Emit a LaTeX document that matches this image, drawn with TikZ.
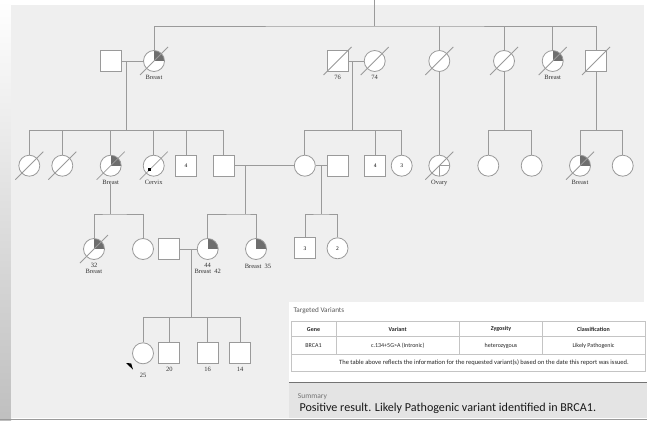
\documentclass[tikz,border=0pt]{standalone}
\usepackage{fontspec}
\usepackage{tikz}
\setmainfont{Liberation Serif}
\newfontfamily\reportfont{Carlito}
\usetikzlibrary{positioning}
\definecolor{bggray}{HTML}{EFEFEF}
\definecolor{linegray}{HTML}{9A9A9A}
\definecolor{affgray}{HTML}{6E6E6E}
\definecolor{cellgray}{HTML}{C4C4C4}
\definecolor{sumgray}{HTML}{E4E4E4}

\begin{document}
\begin{tikzpicture}[
    x=1pt, y=-1pt,
    link/.style={draw=linegray, line width=0.8pt},
    male/.style={draw=linegray, line width=0.8pt, fill=white, minimum size=21pt,
        inner sep=0pt, font=\fontsize{5.5}{6}\selectfont},
    female/.style={male, circle},
    lbl/.style={inner sep=0pt, font=\fontsize{6.5}{6.5}\selectfont, text=black!80},
    every label/.style={lbl},
    label distance=3pt,
    % quarter shading for an affected person
    affected/.style={
        path picture={
            \fill[affgray] (path picture bounding box.center)
                rectangle (path picture bounding box.north east);
        }
    },
    % lower right quarter outlined only
    ovary/.style={
        path picture={
            \draw[linegray, line width=0.8pt] (path picture bounding box.east)
                -| (path picture bounding box.south);
        }
    },
    slash/.style={draw=linegray, line width=0.8pt},
    cell/.style={inner sep=0pt, font=\reportfont\fontsize{6}{7}\selectfont, text=black!85},
    head/.style={cell, font=\reportfont\bfseries\fontsize{6}{7}\selectfont}
]

    % Background
    \useasboundingbox (0,0) rectangle (647,420);
    \shade[top color=white, bottom color=black!25] (0,0) rectangle (11,420);
    \fill[bggray] (11,5) rectangle (643.7,418.3);
    \draw[linegray] (0,418.8) -- (647,418.8);

    % Generation I
    \node[male] (i1) at (110.5,61) {};
    \node[female, affected, label=below:Breast] (i2) at (154,61) {};
    \node[male, label=below:76] (i3) at (337.5,61) {};
    \node[female, label=below:74] (i4) at (374.7,61) {};
    \node[female] (i5) at (439.3,61) {};
    \node[female] (i6) at (504,61) {};
    \node[female, affected, label=below:Breast] (i7) at (552.7,61) {};
    \node[male] (i8) at (596,61) {};

    % Generation II
    \node[female] (ii1) at (29.3,165.7) {};
    \node[female] (ii2) at (62.3,165.7) {};
    \node[female, affected, label={[name=ii3l]below:Breast}] (ii3) at (110.7,165.7) {};
    \node[female, label=below:Cervix] (ii4) at (153.7,165.7) {};
    \node[male] (ii5) at (186,165.7) {4};
    \node[male] (ii6) at (223.7,165.7) {};
    \node[female] (ii7) at (304.8,165.7) {};
    \node[male] (ii8) at (337.5,165.7) {};
    \node[male] (ii9) at (375.2,165.7) {4};
    \node[female] (ii10) at (401.7,165.7) {3};
    \node[female, ovary, label=below:Ovary] (ii11) at (439.3,165.7) {};
    \node[female] (ii12) at (488.3,165.7) {};
    \node[female] (ii13) at (531.7,165.7) {};
    \node[female, affected, label=below:Breast] (ii14) at (580,165.7) {};
    \node[female] (ii15) at (622.7,165.7) {};

    % Generation III
    \node[female, affected, label={[align=center, font=\fontsize{6.5}{6}\selectfont]below:32\\Breast}] (iii1) at (94,249) {};
    \node[female] (iii2) at (143,249) {};
    \node[male] (iii3) at (169.3,249) {};
    \node[female, affected, label={[align=center, font=\fontsize{6.5}{6}\selectfont]below:44\\Breast\ \ 42}] (iii4) at (207.7,249) {};
    \node[female, affected, label={[xshift=2pt, label distance=4pt]below:Breast\ \ 35}] (iii5) at (256,249) {};
    \node[male] (iii6) at (305,248.3) {3};
    \node[female] (iii7) at (337.5,248.3) {2};

    % Generation IV
    \node[female, label={[label distance=9pt]below:25}] (iv1) at (143,353.3) {};
    \node[male, label=below:20] (iv2) at (169.3,353.3) {};
    \node[male, label=below:16] (iv3) at (207.7,353.3) {};
    \node[male, label=below:14] (iv4) at (240,353.3) {};

    % Deceased
    \foreach \p in {i2,i3,i4,i5,i6,i7,i8,ii1,ii2,ii3,ii4,ii11,ii14,iii1}
        \draw[slash] ([shift={(-14,14)}]\p.center) -- ([shift={(14,-14)}]\p.center);
    \fill[black] ([shift={(-5.5,2.3)}]ii4.center) rectangle ++(2.6,2.6);

    % Proband
    \fill[black] (126,363) -- (131.2,363.4) -- (133,369.6) -- cycle;

    % Coordinates
    \coordinate (top) at (374.3,0);
    \coordinate (s0) at (374.3,26);
    \coordinate (m1) at (126.7,61);
    \coordinate (s1) at (126.7,130.3);
    \coordinate (m2) at (352.7,61);
    \coordinate (s2) at (352.7,130.3);
    \coordinate (s3) at (504,130.3);
    \coordinate (s4) at (596,130.3);
    \coordinate (s5) at (110.7,214);
    \coordinate (m3) at (245,165.7);
    \coordinate (s6) at (245,214);
    \coordinate (m4) at (321.3,165.7);
    \coordinate (s7) at (321.3,214);
    \coordinate (m5) at (191,249);
    \coordinate (s8) at (191,317.7);

    % Sibship of generation I
    \draw[link] (top) -- (s0);
    \draw[link] (i2.north) |- (s0) -| (i8.north);
    \foreach \k in {i5,i6,i7}
        \draw[link] (\k.north) -- (\k.north |- s0);

    % Couples and children
    \draw[link] (i1) -- (i2);
    \draw[link] (m1) -- (s1);
    \draw[link] (ii1.north) |- (s1) -| (ii6.north);
    \foreach \k in {ii2,ii3,ii4,ii5}
        \draw[link] (\k.north) -- (\k.north |- s1);

    \draw[link] (i3) -- (i4);
    \draw[link] (m2) -- (s2);
    \draw[link] (ii7.north) |- (s2) -| (ii10.north);
    \draw[link] (ii9.north) -- (ii9.north |- s2);

    \draw[link] (i5) -- (ii11);
    \draw[link] (i6) -- (s3);
    \draw[link] (ii12.north) |- (s3) -| (ii13.north);
    \draw[link] (i8) -- (s4);
    \draw[link] (ii14.north) |- (s4) -| (ii15.north);

    \draw[link] (ii3l) -- (s5);
    \draw[link] (iii1.north) |- (s5) -| (iii2.north);

    \draw[link] (ii6) -- (ii7);
    \draw[link] (m3) -- (s6);
    \draw[link] (iii4.north) |- (s6) -| (iii5.north);

    \draw[link] (ii7) -- (ii8);
    \draw[link] (m4) -- (s7);
    \draw[link] (iii6.north) |- (s7) -| (iii7.north);

    \draw[link] (iii3) -- (iii4);
    \draw[link] (m5) -- (s8);
    \draw[link] (iv1.north) |- (s8) -| (iv4.north);
    \foreach \k in {iv2,iv3}
        \draw[link] (\k.north) -- (\k.north |- s8);

    % Variant table
    \fill[white] (289.3,301.7) rectangle (647,382);
    \node[cell, anchor=west, font=\reportfont\fontsize{7.2}{8}\selectfont, text=black!65] (ttitle) at (293.3,310.7) {Targeted Variants};
    \draw[cellgray, line width=0.6pt] (291,321.7) rectangle (645.5,371.7);
    \draw[cellgray, line width=0.6pt] (291,336.7) -- (645.5,336.7) (291,354.3) -- (645.5,354.3);
    \foreach \cx in {336,459.3,542.7}
        \draw[cellgray, line width=0.6pt] (\cx,321.7) -- (\cx,354.3);
    \node[head] (hgene) at (313.5,329.2) {Gene};
    \node[head] (hvar) at (397.7,329.2) {Variant};
    \node[head] (hzyg) at (501,329.2) {Zygosity};
    \node[head] (hcls) at (593.5,329.2) {Classification};
    \node[cell] (rgene) at (313.5,345.5) {BRCA1};
    \node[cell] (rvar) at (397.7,345.5) {c.134+5G>A (Intronic)};
    \node[cell] (rzyg) at (501,345.5) {heterozygous};
    \node[cell] (rcls) at (593.5,345.5) {Likely Pathogenic};
    \node[cell, font=\reportfont\fontsize{6.5}{7}\selectfont] (tnote) at (484,363) {The table above reflects the information for the requested variant(s) based on the date this report was issued.};

    % Summary
    \draw[black!55, line width=1pt] (289.3,382.3) -- (647,382.3);
    \fill[sumgray] (289.3,383) rectangle (647,418.3);
    \node[cell, anchor=west, font=\reportfont\fontsize{7.5}{8}\selectfont, text=black!55] (tsum) at (297.7,396.7) {Summary};
    \node[cell, anchor=west, font=\reportfont\fontsize{12.1}{13}\selectfont, text=black!90] (tres) at (299.3,408.3) {Positive result. Likely Pathogenic variant identified in BRCA1.};

\end{tikzpicture}
\end{document}
